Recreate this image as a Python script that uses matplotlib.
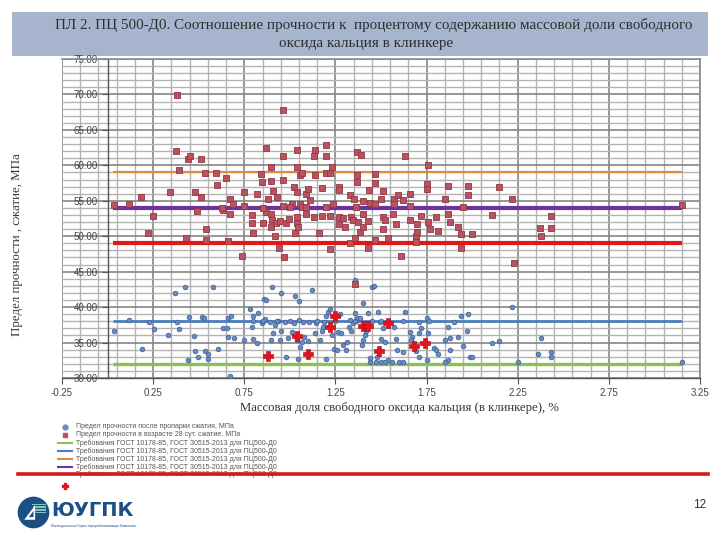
import matplotlib
matplotlib.use('Agg')
import matplotlib.pyplot as plt
from matplotlib.lines import Line2D
from matplotlib.patches import Rectangle, Circle, Polygon
from matplotlib.ticker import FixedLocator, FormatStrFormatter

plt.rcParams['font.family'] = ['Liberation Sans', 'DejaVu Sans']

# ---------------- texts ----------------
title_line1 = "ПЛ 2. ПЦ 500-Д0. Соотношение прочности к  процентому содержанию массовой доли свободного"
title_line2 = "оксида кальция в клинкере"
y_label = "Предел прочности , сжатие, МПа"
x_label = "Массовая доля свободного оксида кальция (в клинкере), %"
legend_labels = [
    "Предел прочности после пропарки сжатия, МПа",
    "Предел прочности в возрасте 28 сут. сжатие, МПа",
    "Требования ГОСТ 10178-85, ГОСТ 30515-2013 для ПЦ500-Д0",
    "Требования ГОСТ 10178-85, ГОСТ 30515-2013 для ПЦ500-Д0",
    "Требования ГОСТ 10178-85, ГОСТ 30515-2013 для ПЦ500-Д0",
    "Требования ГОСТ 10178-85, ГОСТ 30515-2013 для ПЦ500-Д0",
    "Требования ГОСТ 10178-85, ГОСТ 30515-2013 для ПЦ500-Д0",
    "",
]
logo_text = "ЮУГПК"
logo_sub = "Южноуральская Горно-перерабатывающая Компания"
page_no = "12"

# ---------------- ticks ----------------
x_ticks = [-0.25, 0.25, 0.75, 1.25, 1.75, 2.25, 2.75, 3.25]
y_ticks = [30, 35, 40, 45, 50, 55, 60, 65, 70, 75]

# ---------------- data ----------------
# strength after steaming (blue dots)
steam_x = [0.036, 0.118, 0.19, 0.23, 0.255, 0.33, 0.37, 0.38, 0.39, 0.425, 0.44, 0.445, 0.475, 0.48,
           0.495, 0.52, 0.53, 0.535, 0.55, 0.553, 0.58, 0.608, 0.635, 0.654, 0.66, 0.663, 0.676, 0.67,
           0.695, 0.75, 0.78, 0.80, 0.79, 0.80, 0.82, 0.824, 0.846, 0.855, 0.864, 0.86, 0.87, 0.89,
           0.895, 0.906, 0.90, 0.92, 0.937, 0.946, 0.95, 0.95, 0.974, 0.98, 0.99, 1.01, 1.02, 1.03,
           1.04, 1.05, 1.047, 1.056, 1.07, 1.065, 1.08, 1.10, 1.107, 1.12, 1.14, 1.144, 1.166, 1.175,
           1.18, 1.19, 1.20, 1.21, 1.22, 1.20, 1.23, 1.24, 1.26, 1.266, 1.275, 1.28, 1.29, 1.31, 1.315,
           1.326, 1.334, 1.345, 1.36, 1.363, 1.37, 1.385, 1.36, 1.394, 1.40, 1.40, 1.41, 1.42, 1.43,
           1.44, 1.45, 1.46, 1.477, 1.485, 1.495, 1.50, 1.51, 1.52, 1.54, 1.57, 1.58, 1.59, 1.50, 1.62,
           1.63, 1.62, 1.66, 1.67, 1.665, 1.69, 1.71, 1.71, 1.72, 1.71, 1.75, 1.765, 1.76, 1.75, 1.79,
           1.80, 1.81, 1.85, 1.87, 1.87, 1.88, 1.88, 1.90, 1.92, 1.94, 1.95, 1.97, 1.98, 1.99, 2.00,
           2.11, 2.15, 2.22, 2.25, 2.36, 2.38, 2.43, 2.43, 3.15,
           1.44, 1.47, 1.50, 1.52, 1.56, 1.60, 1.62, 1.85,
           0.80, 0.85, 0.93, 1.00, 1.05, 1.15, 1.25, 1.33, 1.36, 1.45]
steam_y = [36.6, 38.2, 34.1, 37.9, 36.9, 36.0, 42.0, 37.9, 36.9, 42.8, 32.6, 38.6, 35.9, 33.8,
           32.9, 38.6, 38.5, 33.8, 33.4, 32.7, 42.9, 34.1, 37.1, 37.1, 35.8, 38.5, 38.7, 30.3,
           35.7, 35.4, 39.8, 38.8, 37.2, 35.5, 34.9, 39.1, 37.7, 38.1, 38.3, 41.2, 41.0, 37.9,
           35.3, 36.3, 42.9, 37.5, 38.0, 35.3, 36.7, 42.0, 37.9, 32.9, 35.7, 36.5, 37.8, 41.6,
           35.3, 40.9, 32.7, 34.4, 37.9, 35.1, 35.8, 35.2, 37.9, 42.4, 36.3, 37.8, 35.3, 36.6,
           37.2, 37.9, 38.7, 39.3, 39.8, 32.7, 36.0, 34.1, 33.9, 36.5, 39.0, 36.3, 34.6, 34.0, 35.1,
           37.2, 36.7, 37.7, 39.1, 38.1, 38.4, 38.4, 43.8, 34.6, 35.3, 40.6, 36.0, 36.7, 39.1,
           32.8, 42.9, 43.0, 33.0, 39.3, 37.9, 35.5, 37.0, 35.1, 32.5, 37.2, 35.5, 33.9, 38.1, 33.7,
           39.3, 38.1, 36.5, 35.8, 35.3, 33.8, 37.9, 36.3, 37.0, 33.0, 38.5, 38.1, 36.3, 32.6, 34.3,
           33.9, 33.4, 35.3, 37.2, 32.5, 33.9, 35.7, 37.9, 35.8, 38.7, 34.5, 36.7, 39.0, 33.0, 33.0,
           34.9, 35.2, 40.0, 32.2, 33.4, 35.7, 33.7, 33.0, 32.2,
           32.2, 32.3, 32.2, 32.3, 32.2, 32.2, 32.3, 32.2,
           38.0, 38.0, 38.1, 38.0, 38.2, 38.1, 38.0, 38.2, 38.0, 38.0]

# strength at 28 days (red squares)
day28_x = [0.036, 0.118, 0.185, 0.22, 0.25, 0.34, 0.376, 0.38, 0.39, 0.43, 0.44, 0.45, 0.48, 0.49,
           0.51, 0.51, 0.535, 0.54, 0.54, 0.595, 0.60, 0.65, 0.635, 0.66, 0.67, 0.69, 0.67, 0.74,
           0.75, 0.79, 0.79, 0.80, 0.82, 0.84, 0.845, 0.85, 0.87, 0.87, 0.88, 0.895, 0.895, 0.895,
           0.90, 0.895, 0.91, 0.92, 0.924, 0.93, 0.94, 0.946, 0.964, 0.964, 0.964, 0.96, 0.97, 0.98,
           0.997, 1.01, 1.02, 1.03, 1.04, 1.04, 1.04, 1.04, 1.04, 1.047, 1.056, 1.065, 1.056, 1.065,
           1.09, 1.10, 1.11, 1.09, 1.09, 1.13, 1.14, 1.13, 1.14, 1.16, 1.175, 1.175, 1.20, 1.20,
           1.197, 1.22, 1.23, 1.20, 1.22, 1.235, 1.22, 1.27, 1.27, 1.27, 1.27, 1.29, 1.30, 1.33,
           1.35, 1.335, 1.345, 1.33, 1.36, 1.37, 1.39, 1.37, 1.37, 1.363, 1.376, 1.385, 1.40, 1.40,
           1.40, 1.43, 1.43, 1.436, 1.44, 1.465, 1.467, 1.467, 1.467, 1.50, 1.51, 1.51, 1.52, 1.51,
           1.54, 1.565, 1.57, 1.57, 1.58, 1.595, 1.61, 1.62, 1.63, 1.66, 1.66, 1.66, 1.69, 1.70,
           1.69, 1.70, 1.72, 1.75, 1.75, 1.76, 1.76, 1.77, 1.80, 1.81, 1.85, 1.87, 1.87, 1.88, 1.92,
           1.94, 1.94, 1.95, 1.98, 1.98, 2.00, 2.11, 2.15, 2.22, 2.23, 2.37, 2.38, 2.43, 2.43, 3.15,
           1.36, 0.63, 0.75, 0.85, 1.00]
day28_y = [54.4, 54.5, 55.6, 50.5, 52.9, 56.3, 62.0, 69.9, 59.3, 49.8, 60.9, 61.3, 56.3, 53.6,
           55.6, 60.9, 58.9, 51.0, 49.4, 58.9, 57.2, 58.2, 53.7, 49.3, 55.3, 54.6, 53.1, 47.2,
           56.3, 53.0, 51.8, 50.4, 55.9, 58.8, 57.6, 51.8, 62.4, 53.4, 55.2, 59.8, 57.8, 53.2,
           52.3, 51.3, 56.4, 50.0, 51.9, 55.6, 48.3, 52.2, 61.3, 57.9, 54.3, 67.8, 47.1, 51.8,
           52.4, 54.6, 57.0, 50.4, 56.3, 62.2, 59.8, 52.7, 51.8, 51.3, 58.6, 58.9, 54.6, 54.1,
           56.0, 56.7, 55.1, 54.1, 53.1, 52.7, 62.2, 61.3, 58.6, 50.5, 56.8, 52.8, 62.9, 61.3,
           58.9, 58.9, 59.8, 54.1, 52.8, 54.6, 48.2, 57.0, 56.5, 52.7, 51.7, 52.5, 51.3, 55.8,
           55.3, 52.7, 52.3, 49.0, 49.7, 61.9, 61.4, 58.6, 57.7, 54.1, 52.0, 50.6, 51.3, 55.0,
           53.1, 52.2, 48.3, 56.5, 54.7, 49.4, 58.8, 57.5, 54.6, 55.3, 56.4, 52.7, 52.3, 51.0,
           49.8, 53.2, 55.3, 54.6, 51.7, 55.8, 47.2, 55.1, 61.3, 56.0, 54.3, 52.3, 50.1, 50.6,
           49.2, 51.7, 52.8, 57.3, 56.7, 60.1, 52.0, 51.0, 52.7, 50.8, 55.2, 57.1, 53.1, 52.0, 51.3,
           50.3, 48.3, 54.1, 57.1, 55.8, 50.3, 53.0, 57.0, 55.2, 46.2, 51.1, 50.1, 52.8, 51.2, 54.4,
           43.2, 54.0, 54.2, 54.0, 54.1]

# highlighted points (red markers)
mark_x = [0.88, 1.04, 1.10, 1.22, 1.25, 1.40, 1.43, 1.49, 1.54, 1.68, 1.74]
mark_y = [33.1, 35.9, 33.4, 37.2, 38.8, 37.4, 37.4, 33.8, 37.7, 34.5, 35.0]

# requirement lines (green, blue, orange, purple, red)
req_levels = [32.0, 38.0, 59.0, 54.0, 49.0]
req_colors = ['#8cc04f', '#4a7ebb', '#e08a3c', '#7030a0', '#e01818']
req_widths = [2.4, 2.0, 1.6, 3.0, 3.0]
req_x_range = [0.03, 3.15]

# ---------------- figure ----------------
W, H = 720, 540
fig = plt.figure(figsize=(7.2, 5.4), dpi=100)
fig.patch.set_facecolor('white')

def fx(px):
    return px / W

def fy(py):
    return 1 - py / H

# title band
fig.add_artist(Rectangle((fx(12), fy(56)), fx(696), 44 / H, transform=fig.transFigure,
                         facecolor='#a6b5cd', edgecolor='none', zorder=0))
fig.text(fx(374), fy(25), title_line1, ha='center', va='center', fontsize=10.9,
         family='Liberation Serif', color='#2e2e2e')
fig.text(fx(366), fy(44), title_line2, ha='center', va='center', fontsize=10.9,
         family='Liberation Serif', color='#2e2e2e')

# axes
ax = fig.add_axes([fx(62), fy(378), fx(700 - 62), (378 - 59) / H])
ax.set_xlim(-0.25, 3.25)
ax.set_ylim(30, 75)

minor_x = [-0.25 + 0.1 * i for i in range(36)]
ax.xaxis.set_major_locator(FixedLocator(x_ticks))
ax.xaxis.set_minor_locator(FixedLocator(minor_x))
ax.yaxis.set_major_locator(FixedLocator(y_ticks))
ax.yaxis.set_minor_locator(FixedLocator(list(range(30, 76))))
ax.xaxis.set_major_formatter(FormatStrFormatter('%.2f'))
ax.yaxis.set_major_formatter(FormatStrFormatter('%.2f'))
ax.grid(which='minor', color='#b3b3b3', lw=1.0, zorder=0)
ax.grid(which='major', color='#858585', lw=1.2, zorder=0)
ax.set_axisbelow(True)
ax.tick_params(which='minor', length=0)
ax.tick_params(which='major', length=4, width=0.8, color='#555555', labelsize=7,
               labelcolor='#454545', pad=3)
ax.spines['left'].set_position(('data', 0))
for s in ['left', 'bottom']:
    ax.spines[s].set_color('#555555')
    ax.spines[s].set_linewidth(1.0)
for s in ['top', 'right']:
    ax.spines[s].set_color('#8a8a8a')
    ax.spines[s].set_linewidth(1.2)

# requirement lines
for lvl, c, lw in zip(req_levels, req_colors, req_widths):
    ax.hlines(lvl, req_x_range[0], req_x_range[1], colors=c, linewidth=lw, zorder=2)

ax.scatter(steam_x, steam_y, s=11, marker='o', facecolor='#6b8cc2', edgecolor='#44659c',
           linewidths=0.6, zorder=3)
ax.scatter(day28_x, day28_y, s=22, marker='s', facecolor='#b9525e', edgecolor='#8e3a46',
           linewidths=0.6, zorder=3)
ax.scatter(mark_x, mark_y, s=42, marker='P', facecolor='#e0141e', edgecolor='#b00010',
           linewidths=0.4, zorder=4)

# axis titles
fig.text(fx(399), fy(408), x_label, ha='center', va='center', fontsize=9.2,
         family='Liberation Serif', color='#333333')
fig.text(fx(17), fy(245), y_label, ha='center', va='center', fontsize=9.3, rotation=90,
         family='Liberation Serif', color='#333333')

# legend (manual)
leg_rows = [427, 435, 443, 451, 459, 467, 474, 486]
leg_kinds = [('m', 'o', '#6b8cc2'), ('m', 's', '#b9525e'),
             ('l', None, req_colors[0]), ('l', None, req_colors[1]), ('l', None, req_colors[2]),
             ('l', None, req_colors[3]), ('l', None, req_colors[4]), ('m', 'P', '#e0141e')]
for row, (kind, mk, col), lab in zip(leg_rows, leg_kinds, legend_labels):
    if kind == 'm':
        fig.add_artist(Line2D([fx(65)], [fy(row)], marker=mk, markersize=3.5 if mk != 'P' else 5,
                              color=col, linestyle='none', transform=fig.transFigure))
    else:
        fig.add_artist(Line2D([fx(58), fx(72)], [fy(row), fy(row)], color=col, lw=1.5,
                              transform=fig.transFigure))
    if lab:
        fig.text(fx(76), fy(row), lab, ha='left', va='center', fontsize=5, color='#555555')

# decorative red line
fig.add_artist(Line2D([fx(18), fx(708)], [fy(474), fy(474)], color='#d41a1a', lw=2.6,
                      transform=fig.transFigure, zorder=5))

# logo
lax = fig.add_axes([fx(17), fy(529), fx(33), 33 / H])
lax.set_xlim(0, 1)
lax.set_ylim(0, 1)
lax.set_aspect('equal')
lax.axis('off')
lax.add_patch(Circle((0.5, 0.5), 0.48, facecolor='#1d4f86', edgecolor='none'))
for i, yy in enumerate([0.72, 0.64, 0.56, 0.48]):
    lax.add_patch(Rectangle((0.45 + 0.04 * i, yy), 0.42 - 0.04 * i, 0.045,
                            facecolor='#7cc7c0', edgecolor='none'))
lax.add_patch(Polygon([[0.22, 0.28], [0.55, 0.72], [0.55, 0.28]], closed=True,
                      facecolor='white', edgecolor='none'))
lax.add_patch(Polygon([[0.36, 0.36], [0.50, 0.55], [0.50, 0.36]], closed=True,
                      facecolor='#1d4f86', edgecolor='none'))
fig.text(fx(51), fy(511), logo_text, ha='left', va='center', fontsize=14, fontweight='bold',
         family='DejaVu Sans', color='#1d4f86')
fig.text(fx(51), fy(526), logo_sub, ha='left', va='center', fontsize=2.4, color='#1d4f86')
fig.text(fx(700), fy(505), page_no, ha='center', va='center', fontsize=8.5, color='#333333')

fig.savefig('out.png', dpi=100)
